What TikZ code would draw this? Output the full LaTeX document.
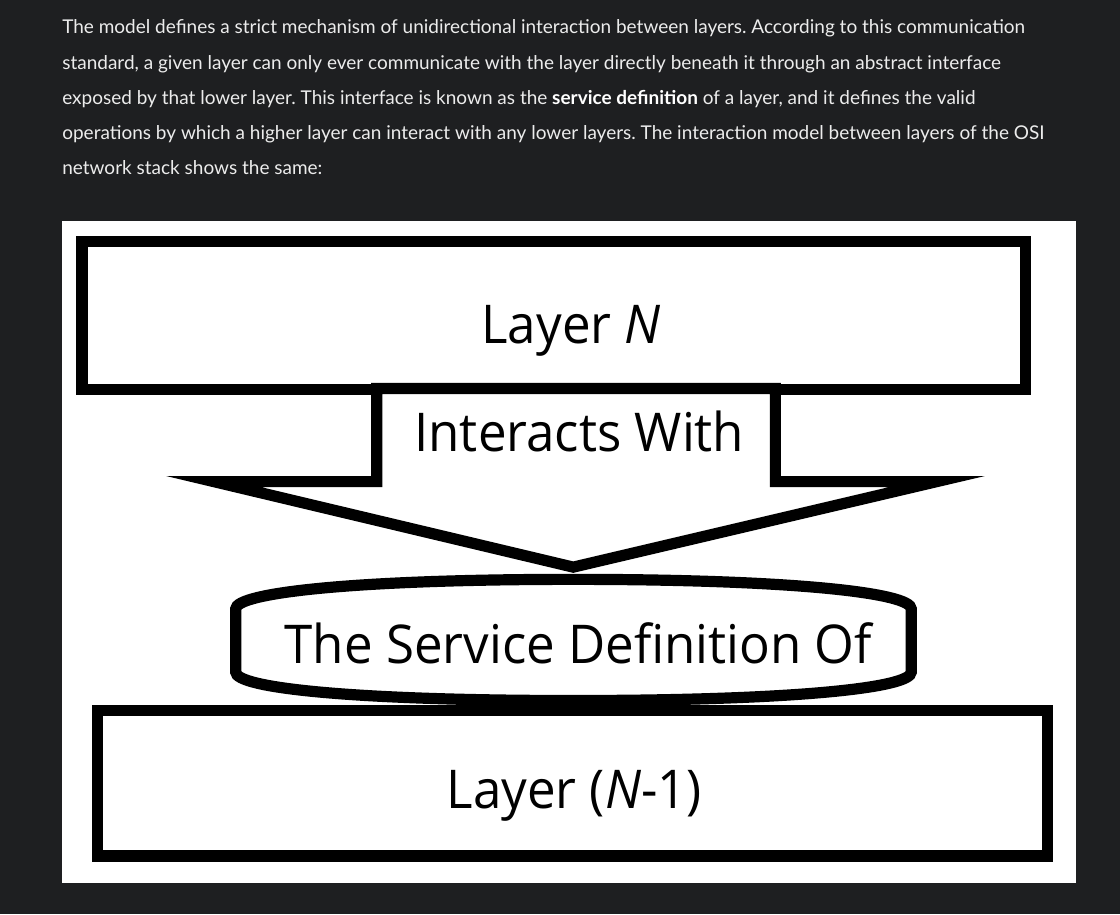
\documentclass[tikz,border=0pt]{standalone}
\usepackage{fontspec}
\setmainfont{Lato}
\newfontfamily\diagfont{Open Sans}[FakeStretch=0.955]
\definecolor{pagebg}{HTML}{1E1F21}
\definecolor{bodytext}{HTML}{ECECEC}
\frenchspacing
\begin{document}
\begin{tikzpicture}[x=1pt,y=-1pt]
\tikzset{
  blk/.style={draw=black, line width=11pt, fill=white, line join=miter, miter limit=12},
  boxnode/.style={blk, rectangle, inner sep=0pt, outer sep=0pt},
  para/.style={anchor=base west, inner sep=0pt, text=bodytext, font=\fontsize{18.65}{22}\selectfont},
  dlabel/.style={anchor=base, inner sep=0pt, text=black, font=\diagfont\fontsize{52.5}{60}\selectfont},
}
\fill[pagebg] (0,0) rectangle (1100,898);
\useasboundingbox (0,0) rectangle (1100,898);

% paragraph
\node[para] (p1) at (61,33) {The model defines a strict mechanism of unidirectional interaction between layers. According to this communication};
\node[para] (p2) at (61,68) {standard, a given layer can only ever communicate with the layer directly beneath it through an abstract interface};
\node[para] (p3) at (61,103) {exposed by that lower layer. This interface is known as the \textcolor{white}{\bfseries service definition} of a layer, and it defines the valid};
\node[para] (p4) at (61,137) {operations by which a higher layer can interact with any lower layers. The interaction model between layers of the OSI};
\node[para] (p5) at (61,171) {network stack shows the same:};

% white panel
\fill[white] (61,217) rectangle (1057,867);

% Layer (N-1) box
\node[boxnode, minimum width=933pt, minimum height=143pt] (lower) at (562.5,769.25) {};
% service definition shape
\path[blk] (231.5,598) .. controls (231.5,582) and (350,569) .. (563,569)
  .. controls (776,569) and (895,582) .. (895,598)
  -- (895,660) .. controls (895,676) and (776,688) .. (563,688)
  .. controls (350,688) and (231.5,676) .. (231.5,660) -- cycle;
% Layer N box
\node[boxnode, minimum width=926.5pt, minimum height=145.5pt] (upper) at (543.75,309.75) {};
% arrow
\path[blk] (370,381.5) -- (370,473) -- (210,473) -- (563,557) -- (920,473)
  -- (761.5,473) -- (761.5,381.5) -- cycle;

% labels
\node[dlabel] (tN) at (561,337) {Layer \textit{N}};
\node[dlabel] (tI) at (569,443.5) {Interacts With};
\node[dlabel] (tS) at (568,652) {The Service Definition Of};
\node[dlabel] (tL) at (564,794) {Layer (\textit{N}-1)};
\end{tikzpicture}
\end{document}
